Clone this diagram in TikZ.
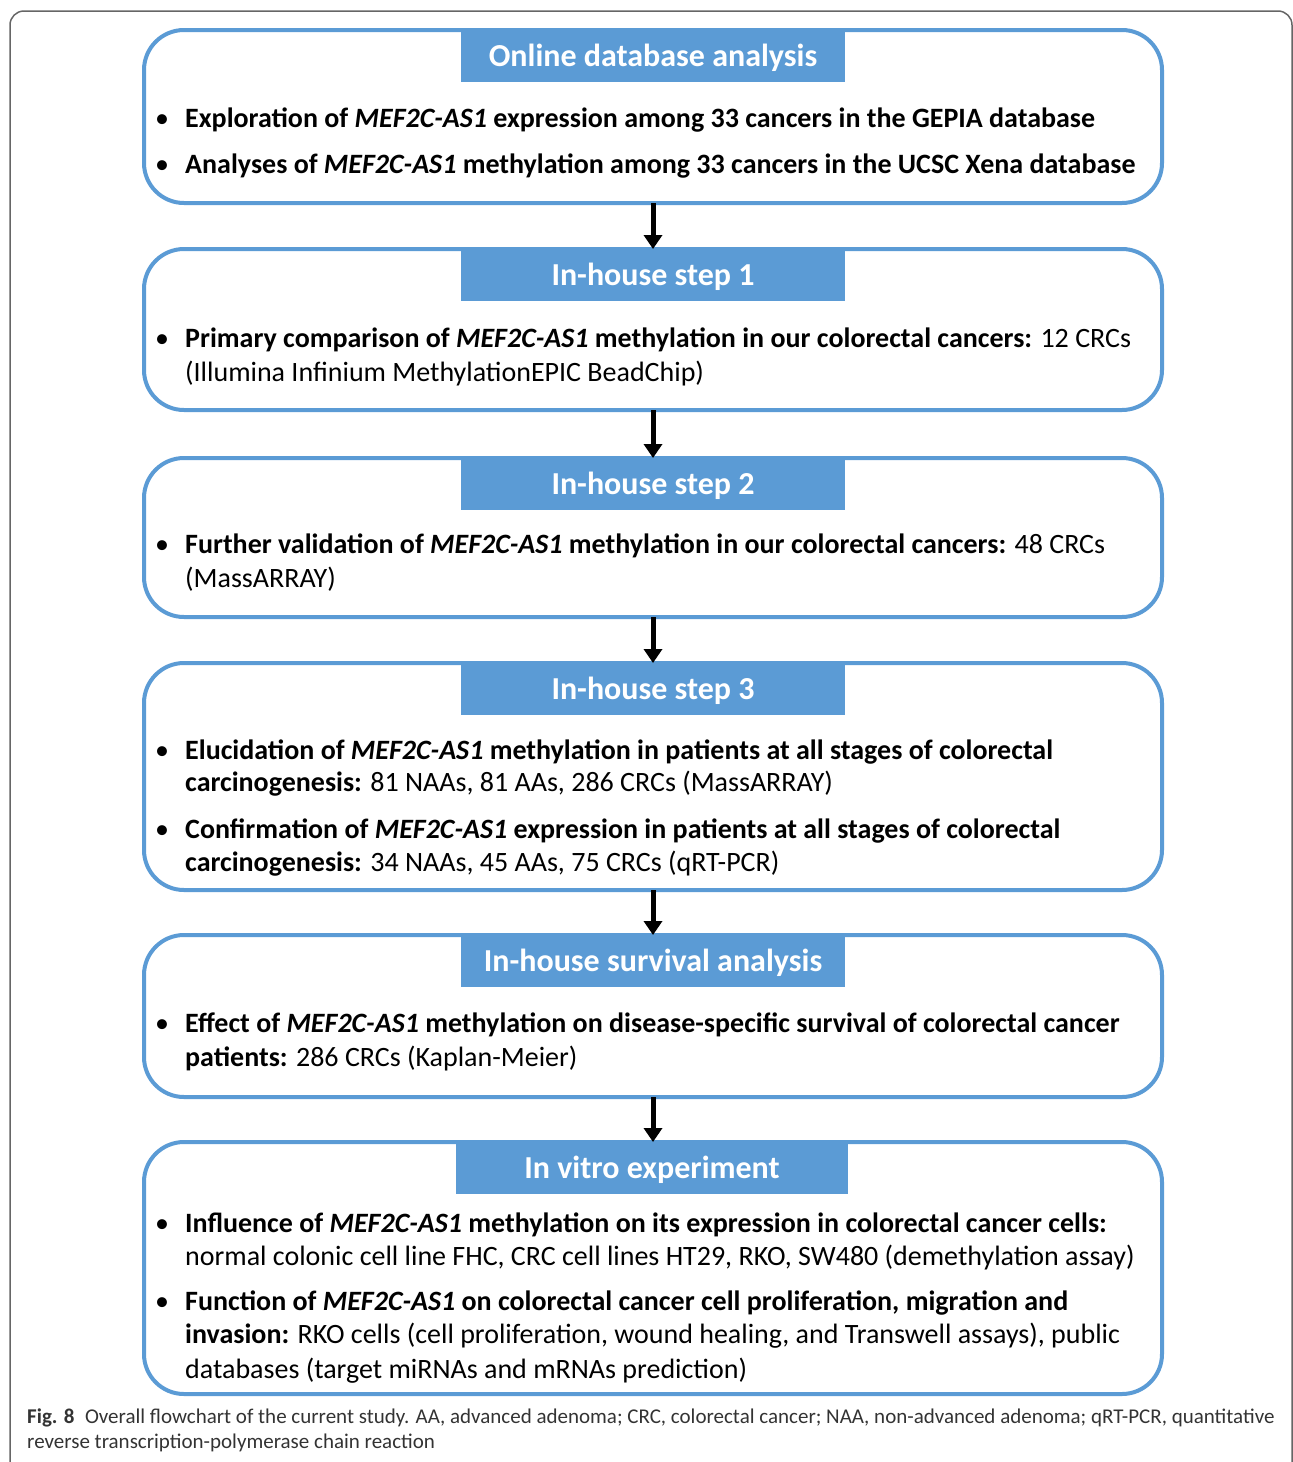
\documentclass[tikz,border=0pt]{standalone}
\usepackage{fontspec}
\setmainfont{Carlito}
\newfontfamily\capfont{Carlito}
\usetikzlibrary{arrows.meta}
\definecolor{hdr}{HTML}{5B9BD5}
\definecolor{capgray}{HTML}{333333}
\definecolor{framegray}{HTML}{666666}
\begin{document}
\begin{tikzpicture}[x=1pt,y=-1pt,
  stagebox/.style={draw=hdr, line width=4pt, rounded corners=40pt, inner sep=0pt, outer sep=0pt, minimum width=1018pt},
  hdrbox/.style={fill=hdr, text=white, inner sep=0pt, outer sep=0pt, minimum width=384pt, minimum height=54pt, text height=28pt, text depth=6pt, anchor=north, font=\fontsize{32}{38}\selectfont\bfseries},
  item/.style={anchor=base west, inner sep=0pt, font=\fontsize{28}{33}\selectfont},
  bul/.style={anchor=base, inner sep=0pt, font=\fontsize{28}{33}\selectfont},
  flow/.style={line width=5pt, -{Triangle[width=18pt,length=14pt]}},
  capt/.style={anchor=base west, inner sep=0pt, text=capgray, font=\capfont\fontsize{21}{25}\selectfont}
  ]
\useasboundingbox (0,0) rectangle (1293,1462);
\begin{scope}
  \clip (0,0) rectangle (1293,1462);
  \draw[framegray, line width=1.5pt, rounded corners=14pt] (10,11) rectangle (1292,1500);
\end{scope}

% stage boxes
\node[stagebox, minimum height=173pt] (b1) at (653,116.5) {};
\node[stagebox, minimum height=161pt] (b2) at (653,329.5) {};
\node[stagebox, minimum height=159pt] (b3) at (653,537.5) {};
\node[stagebox, minimum height=227pt] (b4) at (653,776.5) {};
\node[stagebox, minimum height=162pt] (b5) at (653,1016) {};
\node[stagebox, minimum height=252pt] (b6) at (653,1268) {};

% headers
\node[hdrbox] (h1) at (653,28) {Online database analysis};
\node[hdrbox] (h2) at (653,247) {In-house step 1};
\node[hdrbox] (h3) at (653,456) {In-house step 2};
\node[hdrbox] (h4) at (653,661) {In-house step 3};
\node[hdrbox] (h5) at (653,933) {In-house survival analysis};
\node[hdrbox, minimum width=392pt] (h6) at (652,1140) {In vitro experiment};

% arrows
\draw[flow] (b1.south) -- (b2.north);
\draw[flow] (b2.south) -- (b3.north);
\draw[flow] (b3.south) -- (b4.north);
\draw[flow] (b4.south) -- (b5.north);
\draw[flow] (b5.south) -- (b6.north);

% box 1
\node[bul] (p1a) at (162,127) {•};
\node[item] (t1a) at (185,127) {\textbf{Exploration of \textit{MEF2C-AS1} expression among 33 cancers in the GEPIA database}};
\node[bul] (p1b) at (162,173) {•};
\node[item] (t1b) at (185,173) {\textbf{Analyses of \textit{MEF2C-AS1} methylation among 33 cancers in the UCSC Xena database}};

% box 2
\node[bul] (p2a) at (162,347) {•};
\node[item] (t2a) at (185,347) {\textbf{Primary comparison of \textit{MEF2C-AS1} methylation in our colorectal cancers:} 12 CRCs};
\node[item] (t2b) at (185,381) {(Illumina Infinium MethylationEPIC BeadChip)};

% box 3
\node[bul] (p3a) at (162,553) {•};
\node[item] (t3a) at (185,553) {\textbf{Further validation of \textit{MEF2C-AS1} methylation in our colorectal cancers:} 48 CRCs};
\node[item] (t3b) at (185,587) {(MassARRAY)};

% box 4
\node[bul] (p4a) at (162,759) {•};
\node[item] (t4a) at (185,759) {\textbf{Elucidation of \textit{MEF2C-AS1} methylation in patients at all stages of colorectal}};
\node[item] (t4b) at (185,791) {\textbf{carcinogenesis:} 81 NAAs, 81 AAs, 286 CRCs (MassARRAY)};
\node[bul] (p4c) at (162,838) {•};
\node[item] (t4c) at (185,838) {\textbf{Confirmation of \textit{MEF2C-AS1} expression in patients at all stages of colorectal}};
\node[item] (t4d) at (185,871) {\textbf{carcinogenesis:} 34 NAAs, 45 AAs, 75 CRCs (qRT-PCR)};

% box 5
\node[bul] (p5a) at (162,1032) {•};
\node[item] (t5a) at (185,1032) {\textbf{Effect of \textit{MEF2C-AS1} methylation on disease-specific survival of colorectal cancer}};
\node[item] (t5b) at (185,1066) {\textbf{patients:} 286 CRCs (Kaplan-Meier)};

% box 6
\node[bul] (p6a) at (162,1232) {•};
\node[item] (t6a) at (185,1232) {\textbf{Influence of \textit{MEF2C-AS1} methylation on its expression in colorectal cancer cells:}};
\node[item] (t6b) at (185,1265) {normal colonic cell line FHC, CRC cell lines HT29, RKO, SW480 (demethylation assay)};
\node[bul] (p6c) at (162,1310) {•};
\node[item] (t6c) at (185,1310) {\textbf{Function of \textit{MEF2C-AS1} on colorectal cancer cell proliferation, migration and}};
\node[item] (t6d) at (185,1343) {\textbf{invasion:} RKO cells (cell proliferation, wound healing, and Transwell assays), public};
\node[item] (t6e) at (185,1378) {databases (target miRNAs and mRNAs prediction)};

% caption
\node[capt] (c1) at (27,1423) {\textbf{Fig. 8}\hspace{0.5em}Overall flowchart of the current study. AA, advanced adenoma; CRC, colorectal cancer; NAA, non-advanced adenoma; qRT-PCR, quantitative};
\node[capt] (c2) at (27,1448) {reverse transcription-polymerase chain reaction};
\end{tikzpicture}
\end{document}
